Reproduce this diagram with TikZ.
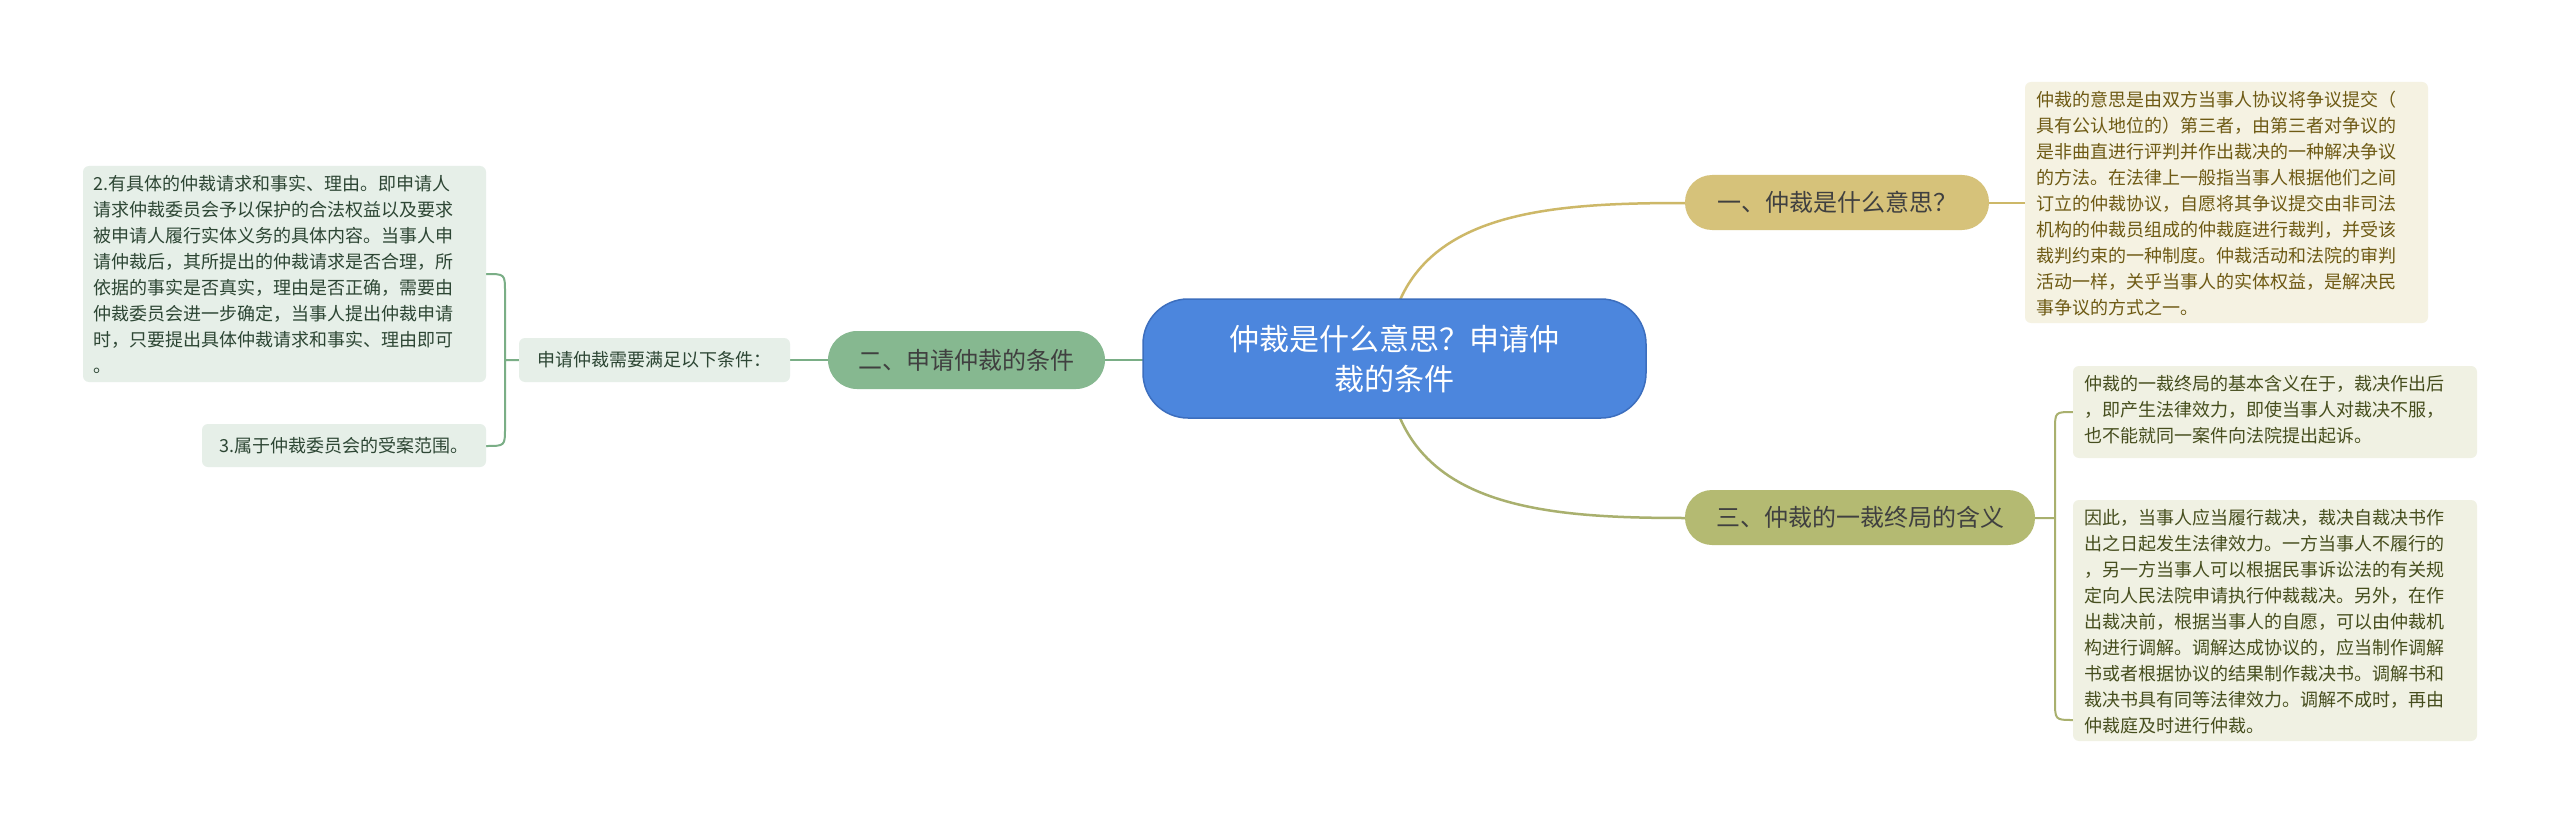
\documentclass[tikz,border=0pt]{standalone}
\usepackage{fontspec}
\setmainfont{Noto Sans CJK SC}
\begin{document}
\begin{tikzpicture}[x=1pt,y=-1pt,
  txt/.style={font=\fontsize{18}{26}\selectfont,align=left,inner sep=0pt,anchor=north west},
  bx/.style={rounded corners=6pt},
  lbl/.style={font=\fontsize{24}{30}\selectfont,text=#1}]
\useasboundingbox[fill=white] (0,0) rectangle (2560,824);
\definecolor{gold}{HTML}{D6C27A}\definecolor{goldln}{HTML}{CDB868}
\definecolor{grn}{HTML}{86B890}\definecolor{grnln}{HTML}{7AAE86}
\definecolor{olv}{HTML}{B4BA72}\definecolor{olvln}{HTML}{A9B06E}
\definecolor{cblue}{RGB}{76,134,221}\definecolor{cbluel}{RGB}{60,110,190}
\definecolor{bg1}{RGB}{245,242,226}\definecolor{tx1}{RGB}{110,90,20}
\definecolor{bg2}{RGB}{240,241,227}\definecolor{tx2}{RGB}{70,78,30}
\definecolor{bg3}{RGB}{230,239,232}\definecolor{tx3}{RGB}{45,70,52}
% connectors
\coordinate (c1) at (1400,300);
\coordinate (c3) at (1400,418);
\draw[goldln,line width=2.5pt] (c1) .. controls (1440,210) and (1560,203) .. (1685,203);
\draw[olvln,line width=2.5pt] (c3) .. controls (1440,510) and (1560,518) .. (1685,518);
\draw[grnln,line width=2.5pt] (1143,360) -- (1105,360);
\draw[goldln,line width=2pt] (1989,203) -- (2025,203);
\draw[olvln,line width=2pt] (2035,518) -- (2055,518) (2073,412) .. controls (2055,412) and (2055,412) .. (2055,430) -- (2055,700) .. controls (2055,720) and (2055,720) .. (2073,720);
\draw[grnln,line width=2pt] (828,360) -- (790,360);
\draw[grnln,line width=2pt] (519,360) -- (505,360) (486,274) .. controls (505,274) and (505,274) .. (505,292) -- (505,428) .. controls (505,446) and (505,446) .. (486,446);
% center
\node[fill=cblue,draw=cbluel,line width=1.5pt,rounded corners=45pt,minimum width=503pt,minimum height=119pt,text=white,font=\fontsize{30}{40}\selectfont,align=center] (ctr) at (1394.5,358.5) {仲裁是什么意思？申请仲\\裁的条件};
% main topics
\node[fill=gold,rounded corners=27pt,minimum width=304pt,minimum height=55pt,lbl={black!75}] (n1) at (1837,202.5) {一、仲裁是什么意思？};
\node[fill=grn,rounded corners=29pt,minimum width=277pt,minimum height=58pt,lbl={black!75}] (n2) at (966.5,360) {二、申请仲裁的条件};
\node[fill=olv,rounded corners=27pt,minimum width=350pt,minimum height=55pt,lbl={black!75}] (n3) at (1860,517.5) {三、仲裁的一裁终局的含义};
% boxes
\fill[bg1,bx] (2025,82) rectangle (2428,323);
\node[txt,text=tx1] (t1) at (2036,91) {仲裁的意思是由双方当事人协议将争议提交（\\具有公认地位的）第三者，由第三者对争议的\\是非曲直进行评判并作出裁决的一种解决争议\\的方法。在法律上一般指当事人根据他们之间\\订立的仲裁协议，自愿将其争议提交由非司法\\机构的仲裁员组成的仲裁庭进行裁判，并受该\\裁判约束的一种制度。仲裁活动和法院的审判\\活动一样，关乎当事人的实体权益，是解决民\\事争议的方式之一。};
\fill[bg2,bx] (2073,366) rectangle (2477,458);
\node[txt,text=tx2] (t2) at (2084,375) {仲裁的一裁终局的基本含义在于，裁决作出后\\，即产生法律效力，即使当事人对裁决不服，\\也不能就同一案件向法院提出起诉。};
\fill[bg2,bx] (2073,500) rectangle (2477,741);
\node[txt,text=tx2] (t3) at (2084,509) {因此，当事人应当履行裁决，裁决自裁决书作\\出之日起发生法律效力。一方当事人不履行的\\，另一方当事人可以根据民事诉讼法的有关规\\定向人民法院申请执行仲裁裁决。另外，在作\\出裁决前，根据当事人的自愿，可以由仲裁机\\构进行调解。调解达成协议的，应当制作调解\\书或者根据协议的结果制作裁决书。调解书和\\裁决书具有同等法律效力。调解不成时，再由\\仲裁庭及时进行仲裁。};
\fill[bg3,bx] (519,338) rectangle (790,382);
\node[font=\fontsize{18}{24}\selectfont,text=tx3] (lb) at (654.5,360) {申请仲裁需要满足以下条件：};
\fill[bg3,bx] (83,166) rectangle (486,382);
\node[txt,text=tx3] (t4) at (93,175) {2.有具体的仲裁请求和事实、理由。即申请人\\请求仲裁委员会予以保护的合法权益以及要求\\被申请人履行实体义务的具体内容。当事人申\\请仲裁后，其所提出的仲裁请求是否合理，所\\依据的事实是否真实，理由是否正确，需要由\\仲裁委员会进一步确定，当事人提出仲裁申请\\时，只要提出具体仲裁请求和事实、理由即可\\。};
\fill[bg3,bx] (202,424) rectangle (486,467);
\node[font=\fontsize{18}{24}\selectfont,text=tx3] (t5) at (344,445.5) {3.属于仲裁委员会的受案范围。};
\end{tikzpicture}
\end{document}
